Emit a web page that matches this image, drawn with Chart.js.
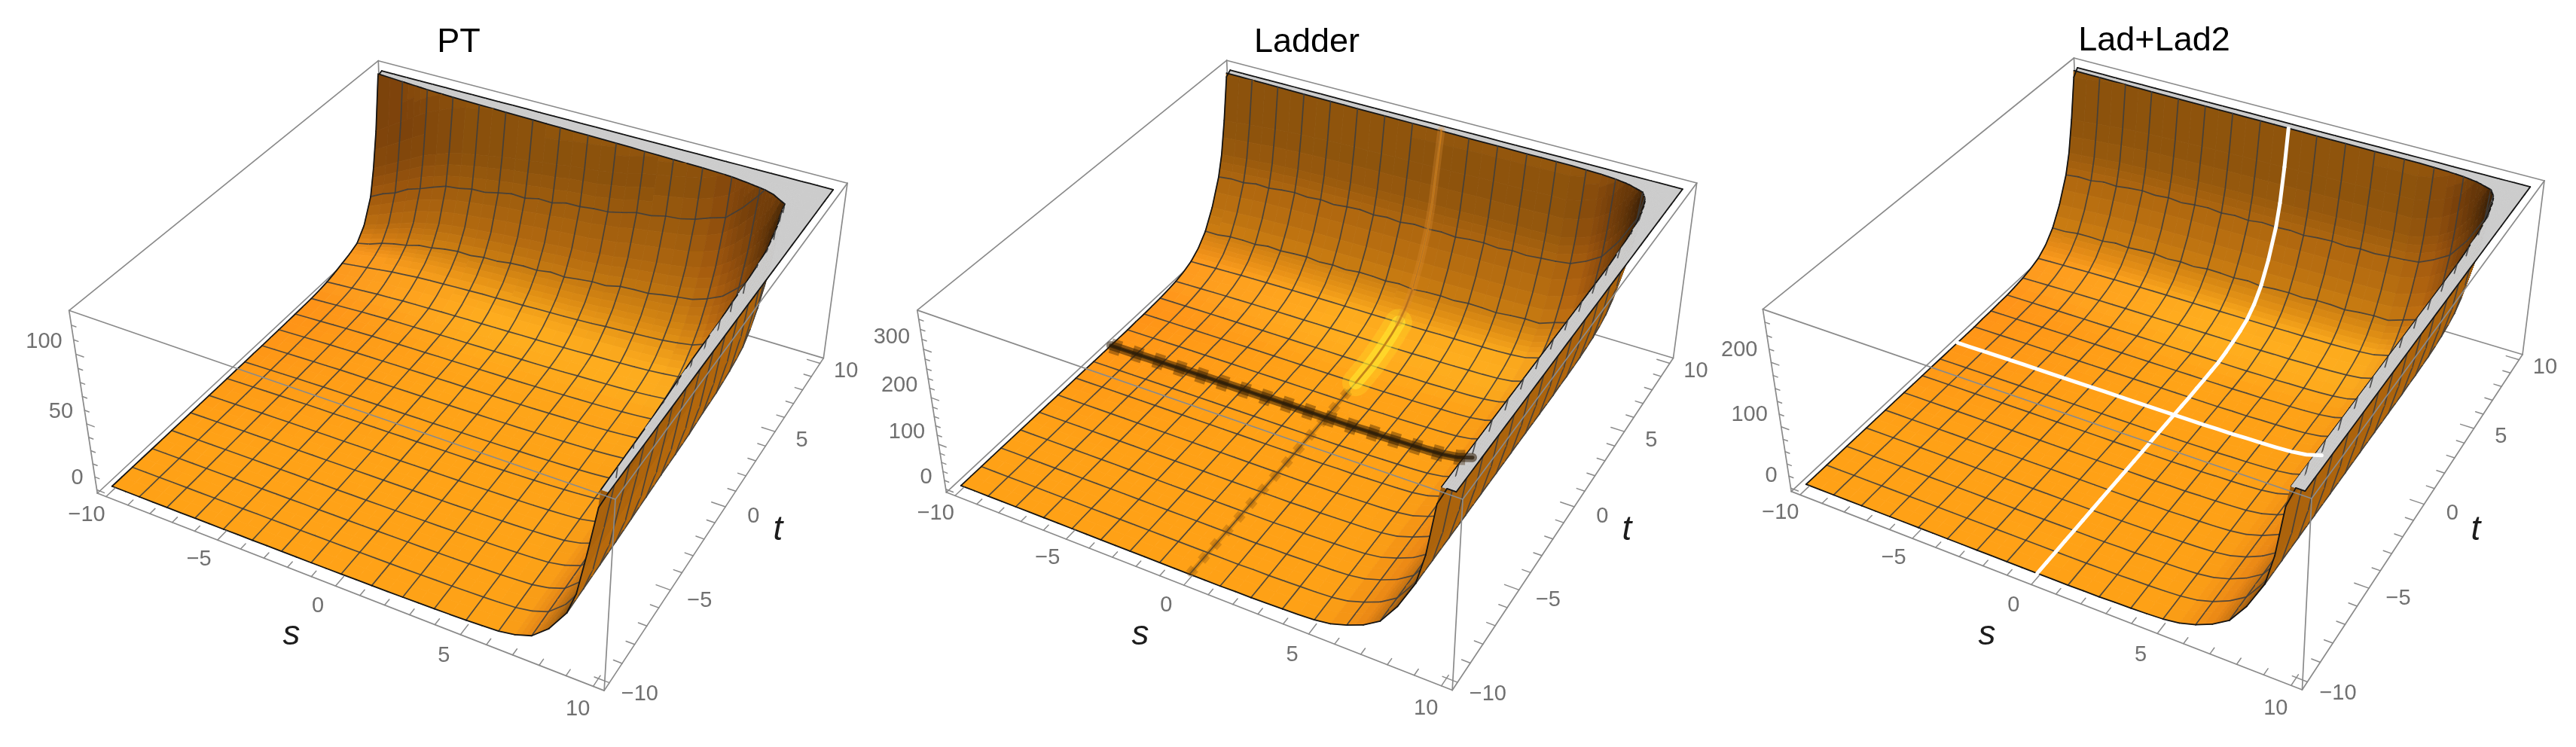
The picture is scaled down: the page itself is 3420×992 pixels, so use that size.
<!DOCTYPE html>
<html>
<head>
<meta charset="utf-8">
<title>PT, Ladder, Lad+Lad2</title>
<script src="https://cdn.jsdelivr.net/npm/chart.js@4/dist/chart.umd.js"></script>
<style>
  html, body { margin: 0; background: #fff; }
  canvas { position: absolute; left: 0; top: 0; }
</style>
</head>
<body>
<canvas id="pt" width="3420" height="992"></canvas>
<canvas id="ladder" width="3420" height="992"></canvas>
<canvas id="ladlad2" width="3420" height="992"></canvas>
<script>
// grid nodes of the surfaces, denser where they climb towards the rims
const sNodes = [-10,-9.375,-8.75,-8.125,-7.5,-6.875,-6.25,-5.625,-5,-4.375,-3.75,-3.125,-2.5,-1.875,-1.25,-0.625,0,0.625,1.25,1.875,2.5,3.125,3.75,4.375,5,5.625,6.25,6.875,7.5,8.125,8.75,9.0625,9.375,9.6875,10];
const tNodes = [-10,-9.375,-8.75,-8.125,-7.5,-6.875,-6.25,-5.625,-5,-4.375,-3.75,-3.125,-2.5,-1.875,-1.25,-0.625,0,0.625,1.25,1.875,2.5,3.125,3.75,4.375,5,5.625,6.25,6.875,7.5,8.125,8.75,9.0625,9.375,9.6875,10];

// each surface is read off the picture as cuts: height along the t=-10 edge,
// along the s=-10 edge, and how much the inner rows lift with s and t
const ptCrossS = [0,.06,.12,.18,.24,.28,.32,.35,.37,.39,.41,.43,.44,.46,.47,.49,.5,.51,.53,.55,.58,.6,.62,.64,.66,.7,.75,.84,.95,1,1.15,2.4,4.5,7.5,10];
const ladCrossS = [0,.06,.12,.18,.24,.28,.32,.35,.37,.39,.41,.43,.44,.46,.47,.49,.5,.51,.53,.54,.55,.54,.53,.52,.5,.4,.33,.27,.22,.1,.05,.2,.6,1.5,4];

const ptAlongS = [.6,.6,.6,.6,.6,.6,.7,.7,.7,.8,.8,.9,.9,1,1,1.1,1.2,1.3,1.4,1.5,1.7,1.9,2.1,2.4,2.8,3.3,4,6,10,20,36,52,82,115,190];
const ptAlongT = [0,0,0,0,0,0,0,0,0,0,0,0,0,.1,.1,.2,.2,.3,.4,.5,.6,.8,1,1.5,2.5,4,6,8,11,20,38,58,85,125,170];
const ptCrossT = [0,.3,.6,.9,1.2,1.5,1.8,2.2,2.6,3,3.4,3.8,4.2,4.4,4.6,4.9,5.2,5.9,6.6,7,7.5,8.5,9.6,11,12.6,17,23.6,33,47,60,78,90,105,120,140];

const ladderAlongS = [2,2,2,2,2,2,2,2,2,2,2,2,2,2,2,2,2,2,2,3,3,4,5,6,8,13,24,38,60,105,166,230,335,420,520];
const ladderAlongT = [0,0,0,0,0,0,0,0,0,0,0,0,0,0,0,0,0,0,0,1,1,2,3,5,8,13,21,36,60,100,156,200,270,360,500];
const ladderCrossT = [0,.3,.6,.9,1.2,1.5,1.8,2,2.2,2.4,2.6,2.8,3,3.2,3.4,3.7,4,4,4,4,4,4.2,4.5,8,12,15,18,22,26,32,38,44,50,60,70];

const ladAlongS = [1.5,1.5,1.5,1.5,1.5,1.5,1.5,1.5,1.5,1.5,1.5,1.5,1.5,1.5,1.5,1.5,1.5,1.5,1.5,2,2,3,3.5,4.5,6,9.5,17,28,44,76,120,167,243,305,377];
const ladAlongT = [0,0,0,0,0,0,0,0,0,0,0,0,0,0,0,0,0,0,0,.7,.7,1.5,2,3.6,6,9.5,15,26,44,73,113,145,196,261,363];
const ladCrossT = [0,.2,.4,.7,.9,1.1,1.3,1.5,1.6,1.7,1.9,2,2.2,2.3,2.5,2.7,2.9,2.9,2.9,2.9,2.9,3,3.3,5.8,8.7,10.9,13,16,19,23,28,32,36,44,51];

// small wobble of the two upper mesh rows, in parts of the box height
const row875Wobble = [0,.004,-.003,.005,-.004,.003,.006,-.002,.004,-.005,.002,.006,-.003,.003,-.004,.005,0,.004,-.004,.002,.005,-.003,.004,-.002,.003,.006,-.004,.002,0,.003,-.002,0,0,0,0];
const row75Wobble = [0,-.003,.004,.002,-.004,.005,-.002,.003,.006,-.003,.002,-.004,.005,.003,-.002,.004,-.005,.002,.004,-.003,.005,.002,-.004,.003,.005,-.002,.004,-.003,.002,0,0,0,0,0,0];

const sTicks = [-10,-5,0,5,10];
const tTicks = [-10,-5,0,5,10];
const ptZTicks = [0,50,100];
const ladderZTicks = [0,100,200,300];
const ladZTicks = [0,100,200];

const panels = [
  { id: 'pt', title: 'PT', titleAt: [609, 57], sAt: [387, 843], tAt: [1033, 704],
    alongS: ptAlongS, alongT: ptAlongT, crossS: ptCrossS, crossT: ptCrossT,
    zBox: [-2.6, 130], clip: 127, zTicks: ptZTicks, zMinor: 10,
    A: [91.7, 412.3], B: [817, 663], C: [1125, 243.3], D: [502.3, 80.7], E: [129.3, 655], G: [1093.3, 475] },
  { id: 'ladder', title: 'Ladder', titleAt: [1735, 57], sAt: [1514, 843], tAt: [2160, 704],
    alongS: ladderAlongS, alongT: ladderAlongT, crossS: ladCrossS, crossT: ladderCrossT,
    zBox: [-7, 378], clip: 370, zTicks: ladderZTicks, zMinor: 20, band: 'dark', rowEnd: 6.25,
    A: [1217.8, 411.9], B: [1942, 663], C: [2252.7, 243], D: [1628.7, 80.2], E: [1256.4, 653.8], G: [2221.5, 477] },
  { id: 'ladlad2', title: 'Lad+Lad2', titleAt: [2860, 55], sAt: [2638, 843], tAt: [3287, 704],
    alongS: ladAlongS, alongT: ladAlongT, crossS: ladCrossS, crossT: ladCrossT,
    zBox: [-5.5, 279], clip: 273, zTicks: ladZTicks, zMinor: 20, band: 'white', rowEnd: 6.25,
    A: [2340.4, 410.6], B: [3069, 662], C: [3378, 240], D: [2753.5, 77], E: [2378.2, 652.6], G: [3349, 471] }
];

const BOX = 10.4;

// camera fitted to the corners of the box: top face homography + vertical column
function makeCamera(p) {
  const [x0, y0] = p.A, [x1, y1] = p.B, [x2, y2] = p.C, [x3, y3] = p.D;
  const sx = x0 - x1 + x2 - x3, sy = y0 - y1 + y2 - y3;
  const dx1 = x1 - x2, dx2 = x3 - x2, dy1 = y1 - y2, dy2 = y3 - y2;
  const den = dx1 * dy2 - dx2 * dy1;
  const g = (sx * dy2 - dx2 * sy) / den, h = (dx1 * sy - sx * dy1) / den;
  const a = x1 - x0 + g * x1, b = x3 - x0 + h * x3, c = x0;
  const d = y1 - y0 + g * y1, e = y3 - y0 + h * y3, f = y0;
  const [xE, yE] = p.E, [xG] = p.G;
  const pw = (a + b - xG * (g + h + 1) + xE) / (xG - xE);
  const px = xE * (1 + pw) - c, py = yE * (1 + pw) - f;
  const [zb, zt] = p.zBox;
  return (s, t, z) => {
    const u = (s + BOX) / (2 * BOX), v = (t + BOX) / (2 * BOX), q = (zt - z) / (zt - zb);
    const w = g * u + h * v + 1 + pw * q;
    return { x: (a * u + b * v + c + px * q) / w, y: (d * u + e * v + f + py * q) / w };
  };
}

function lookup(x, xs, ys) {
  if (x <= xs[0]) return ys[0];
  for (let i = 1; i < xs.length; i++) {
    if (x <= xs[i]) return ys[i - 1] + (ys[i] - ys[i - 1]) * (x - xs[i - 1]) / (xs[i] - xs[i - 1]);
  }
  return ys[ys.length - 1];
}
const clamp01 = v => Math.max(0, Math.min(1, v));

function shade(s, t, gs, gt) {
  const kT = lookup(gt, [0, 1, 2, 3, 5, 8, 12, 25, 60], [1, 1, .87, .78, .7, .63, .56, .47, .44]);
  const kS = lookup(gs, [0, .5, 1.5, 3, 6, 10, 20], [1, .98, .92, .74, .42, .22, .1]);
  const bump = lookup(gt, [0, .3, 1, 2], [0, 1, 1, 0]);
  const deep = lookup(gs, [0, .4, 1.5], [0, 0, 1]);
  const left = 18 * clamp01((-s - 2) / 8) * clamp01((t + 6) / 10) * lookup(gt, [1, 3], [1, 0]);
  const wall = lookup(gt, [2, 5], [1, .93]);
  const G = (161 + 12 * bump - 14 * deep - left) * wall;
  const B = 22 + 8 * bump;
  const k = kT * kS;
  return [255 * k, G * k, B * k];
}

function buildDatasets(p) {
  const project = makeCamera(p);
  const out = [];
  const poly = (pts, color) => out.push({
    data: [...pts, pts[0]], showLine: true, fill: 'shape', backgroundColor: color,
    borderColor: color, borderWidth: 0.8, pointRadius: 0, clip: false
  });
  const line = (pts, color, width, dash = []) => out.push({
    data: pts, showLine: true, fill: false, borderColor: color, borderWidth: width, borderDash: dash,
    borderJoinStyle: 'round', borderCapStyle: dash.length ? 'butt' : 'round', pointRadius: 0, clip: false
  });
  const edge = (a, b, color = '#8a8a8a', width = 1.7) => line([project(...a), project(...b)], color, width);

  const [zb, zt] = p.zBox;
  const range = zt - zb;
  const last = sNodes.length - 1;
  const height = (i, j) => p.alongS[i] + p.alongT[j] + p.crossS[i] * p.crossT[j];
  const capped = (i, j) => Math.min(height(i, j), p.clip * 1.15);
  const onMesh = v => Math.abs(v) < 9.5 && Number.isInteger(v / 1.25);
  const meshColor = 'rgba(62,62,62,.88)';

  // colour at every grid node from the local slopes
  const colors = sNodes.map((s, i) => tNodes.map((t, j) => {
    const i0 = Math.max(i - 1, 0), i1 = Math.min(i + 1, last), j0 = Math.max(j - 1, 0), j1 = Math.min(j + 1, last);
    const gs = (capped(i1, j) - capped(i0, j)) / range / ((sNodes[i1] - sNodes[i0]) / 20);
    const gt = (capped(i, j1) - capped(i, j0)) / range / ((tNodes[j1] - tNodes[j0]) / 20);
    return shade(s, t, gs, gt);
  }));
  const rgb = c => `rgb(${Math.round(c[0])},${Math.round(c[1])},${Math.round(c[2])})`;
  const mix = (a, b, k) => a.map((v, n) => v + (b[n] - v) * k);
  const spread = (a, b) => Math.max(...a.map((v, n) => Math.abs(v - b[n])));

  // piece of a grid edge that stays below the clipping plane
  const cutSeg = (a, b) => {
    if (a[2] >= p.clip && b[2] >= p.clip) return null;
    const cut = (lo, hi) => {
      const k = (p.clip - lo[2]) / (hi[2] - lo[2]);
      return [lo[0] + (hi[0] - lo[0]) * k, lo[1] + (hi[1] - lo[1]) * k, p.clip];
    };
    return [a[2] > p.clip ? cut(b, a) : a, b[2] > p.clip ? cut(a, b) : b];
  };
  const seg = (a, b, color, width) => {
    const c = cutSeg(a, b);
    if (c) line([project(...c[0]), project(...c[1])], color, width);
  };
  const top = v => [v[0], v[1], Math.min(v[2], p.clip)];

  // one small flat patch, split at the clipping plane
  function patch(q, color) {
    const low = [], up = [], rim = [];
    q.forEach((a, n) => {
      const b = q[(n + 1) % 4];
      const aLow = a[2] < p.clip, bLow = b[2] < p.clip;
      if (aLow) low.push(a); else up.push(a);
      if (aLow !== bLow) {
        const k = (p.clip - a[2]) / (b[2] - a[2]);
        const c = [a[0] + (b[0] - a[0]) * k, a[1] + (b[1] - a[1]) * k, p.clip];
        low.push(c); up.push(c); rim.push(c);
      }
    });
    if (low.length > 2) {
      const pts = low.map(v => project(...v));
      let area = 0;
      pts.forEach((a, n) => { const b = pts[(n + 1) % pts.length]; area += a.x * b.y - b.x * a.y; });
      if (area > 0) {
        // seen from below
        const frac = (Math.min(...low.map(v => v[2])) - zb) / range, k = 0.72 + 0.3 * (1 - frac);
        poly(pts, rgb([205 * k, 118 * k, 14 * k]));
      } else poly(pts, rgb(color));
    }
    if (up.length > 2) poly(up.map(v => project(v[0], v[1], p.clip)), '#cccccc');
    if (rim.length === 2) line(rim.map(v => project(...v)), '#141414', 1.8);
  }

  // box edges behind the surface
  const H = [-BOX, BOX, zb], D = [-BOX, BOX, zt], A = [-BOX, -BOX, zt], C = [BOX, BOX, zt];
  const B = [BOX, -BOX, zt], E = [-BOX, -BOX, zb], F = [BOX, -BOX, zb], G = [BOX, BOX, zb];
  edge(H, D); edge(H, E); edge(H, G); edge(D, A); edge(D, C);

  // far cells first, so near cells cover them
  for (let j = last - 1; j >= 0; j--) {
    for (let i = 0; i < last; i++) {
      const s0 = sNodes[i], s1 = sNodes[i + 1], t0 = tNodes[j], t1 = tNodes[j + 1];
      const z00 = height(i, j), z10 = height(i + 1, j), z11 = height(i + 1, j + 1), z01 = height(i, j + 1);
      const c00 = colors[i][j], c10 = colors[i + 1][j], c11 = colors[i + 1][j + 1], c01 = colors[i][j + 1];
      // finer patches only where the colour changes inside the cell
      const ns = Math.min(4, Math.max(1, Math.ceil(Math.max(spread(c00, c10), spread(c01, c11)) / 9)));
      const nt = Math.min(4, Math.max(1, Math.ceil(Math.max(spread(c00, c01), spread(c10, c11)) / 9)));
      const at = (a, b) => {
        const zl = z00 + (z01 - z00) * b, zr = z10 + (z11 - z10) * b;
        return [s0 + (s1 - s0) * a, t0 + (t1 - t0) * b, zl + (zr - zl) * a];
      };
      for (let m = nt - 1; m >= 0; m--) {
        for (let n = 0; n < ns; n++) {
          const a0 = n / ns, a1 = (n + 1) / ns, b0 = m / nt, b1 = (m + 1) / nt;
          const cl = mix(c00, c01, (b0 + b1) / 2), cr = mix(c10, c11, (b0 + b1) / 2);
          patch([at(a0, b0), at(a1, b0), at(a1, b1), at(a0, b1)], mix(cl, cr, (a0 + a1) / 2));
        }
      }
      const q = [[s0, t0, z00], [s1, t0, z10], [s1, t1, z11], [s0, t1, z01]];
      const wob = t1 === 8.75 ? row875Wobble : t1 === 7.5 ? row75Wobble : null;
      if (onMesh(s0)) seg(q[0], q[3], meshColor, 1.7);
      if (onMesh(t1)) {
        const bump0 = wob ? wob[i] * range : 0, bump1 = wob ? wob[i + 1] * range : 0;
        seg([s0, t1, z01 + bump0], [s1, t1, z11 + bump1], meshColor, 1.7);
      }
      if (i === 0) line([project(...top(q[0])), project(...top(q[3]))], '#141414', 1.8);
      if (j === 0) line([project(...top(q[0])), project(...top(q[1]))], '#141414', 1.8);
      if (i === last - 1) line([project(...top(q[1])), project(...top(q[2]))], '#141414', 1.8);
      if (j === last - 1) line([project(...top(q[3])), project(...top(q[2]))], '#141414', 1.8);
    }
  }

  // the s=0 and t=0 features of the second and third panel
  const i0 = sNodes.indexOf(0), j0 = tNodes.indexOf(0);
  const colSeg = (j, color, width) => seg([0, tNodes[j], height(i0, j)], [0, tNodes[j + 1], height(i0, j + 1)], color, width);
  const colPts = (from, to) => tNodes.map((t, j) => [t, j]).filter(([t]) => t >= from && t <= to)
    .map(([t, j]) => project(0, t, Math.min(height(i0, j), p.clip)));
  const rowPts = sNodes.map((s, i) => project(s, 0, height(i, j0))).filter((_, i) => sNodes[i] <= p.rowEnd);
  if (p.band === 'white') {
    for (let j = 0; j < last; j++) colSeg(j, '#ffffff', 5);
    line(rowPts, '#ffffff', 5);
  }
  if (p.band === 'dark') {
    line(colPts(-10, 2), 'rgba(120,70,10,.28)', 13, [10, 14]);
    line(colPts(-10, 2), 'rgba(130,80,10,.3)', 6);
    line(colPts(2, 6.25), 'rgba(255,225,40,.3)', 36);
    line(colPts(2, 6.25), 'rgba(255,235,50,.55)', 18);
    line(colPts(2, 7.5), 'rgba(190,110,15,.7)', 3);
    line(colPts(6.25, 9.7), 'rgba(220,140,50,.3)', 10);
    line(colPts(7.5, 9.7), 'rgba(235,140,20,.55)', 3);
    line(rowPts, 'rgba(60,35,5,.4)', 20, [14, 16]);
    line(rowPts, 'rgba(50,30,5,.55)', 12);
    line(rowPts, 'rgba(40,25,5,.7)', 5);
  }

  // box edges in front of the surface
  edge(A, B); edge(B, C); edge(A, E); edge(C, G); edge(B, F); edge(E, F); edge(F, G);

  // ticks
  const tickColor = '#8a8a8a';
  for (let v = -10; v <= 10; v++) {
    const long = sTicks.includes(v) ? 0.55 : 0.32;
    edge([v, -BOX, zb], [v, -BOX + long, zb], tickColor, 1.5);
    edge([BOX, v, zb], [BOX - long, v, zb], tickColor, 1.5);
  }
  const major = p.zMinor * 5;
  for (let z = 0; z < zt; z += p.zMinor) {
    const long = z % major === 0 ? 0.34 : 0.2;
    edge([-BOX, -BOX, z], [-BOX + long, -BOX, z], tickColor, 1.5);
  }
  return { datasets: out.reverse(), project };
}

function labelPlugin(p, project) {
  return {
    id: 'labels',
    afterDraw(chart) {
      const ctx = chart.ctx;
      ctx.save();
      ctx.textBaseline = 'middle';
      ctx.textAlign = 'center';
      ctx.fillStyle = '#000';
      ctx.font = '45px "Liberation Sans"';
      ctx.fillText(p.title, p.titleAt[0], p.titleAt[1]);
      ctx.fillStyle = '#1c1c1c';
      ctx.font = 'italic 46px "Liberation Sans"';
      ctx.fillText('s', p.sAt[0], p.sAt[1]);
      ctx.fillText('t', p.tAt[0], p.tAt[1]);
      ctx.fillStyle = '#707070';
      ctx.font = '29px "Liberation Sans"';
      const txt = v => String(v).replace('-', '\u2212');
      const [zb] = p.zBox;
      sTicks.forEach(v => {
        const a = project(v, -11.55, zb);
        ctx.fillText(txt(v), a.x, a.y);
      });
      tTicks.forEach(v => {
        const a = project(11.5, v, zb);
        ctx.fillText(txt(v), a.x, a.y);
      });
      ctx.textAlign = 'right';
      p.zTicks.forEach(v => {
        const a = project(-BOX, -BOX, v);
        ctx.fillText(txt(v), a.x - 18, a.y - 16);
      });
      ctx.restore();
    }
  };
}

panels.forEach(p => {
  const { datasets, project } = buildDatasets(p);
  new Chart(document.getElementById(p.id), {
    type: 'scatter',
    data: { datasets },
    plugins: [labelPlugin(p, project)],
    options: {
      responsive: false,
      animation: false,
      events: [],
      layout: { padding: 0 },
      plugins: { legend: { display: false }, tooltip: { enabled: false } },
      scales: {
        x: { type: 'linear', min: 0, max: 3420, display: false },
        y: { type: 'linear', min: 0, max: 992, reverse: true, display: false }
      }
    }
  });
});
</script>
</body>
</html>
